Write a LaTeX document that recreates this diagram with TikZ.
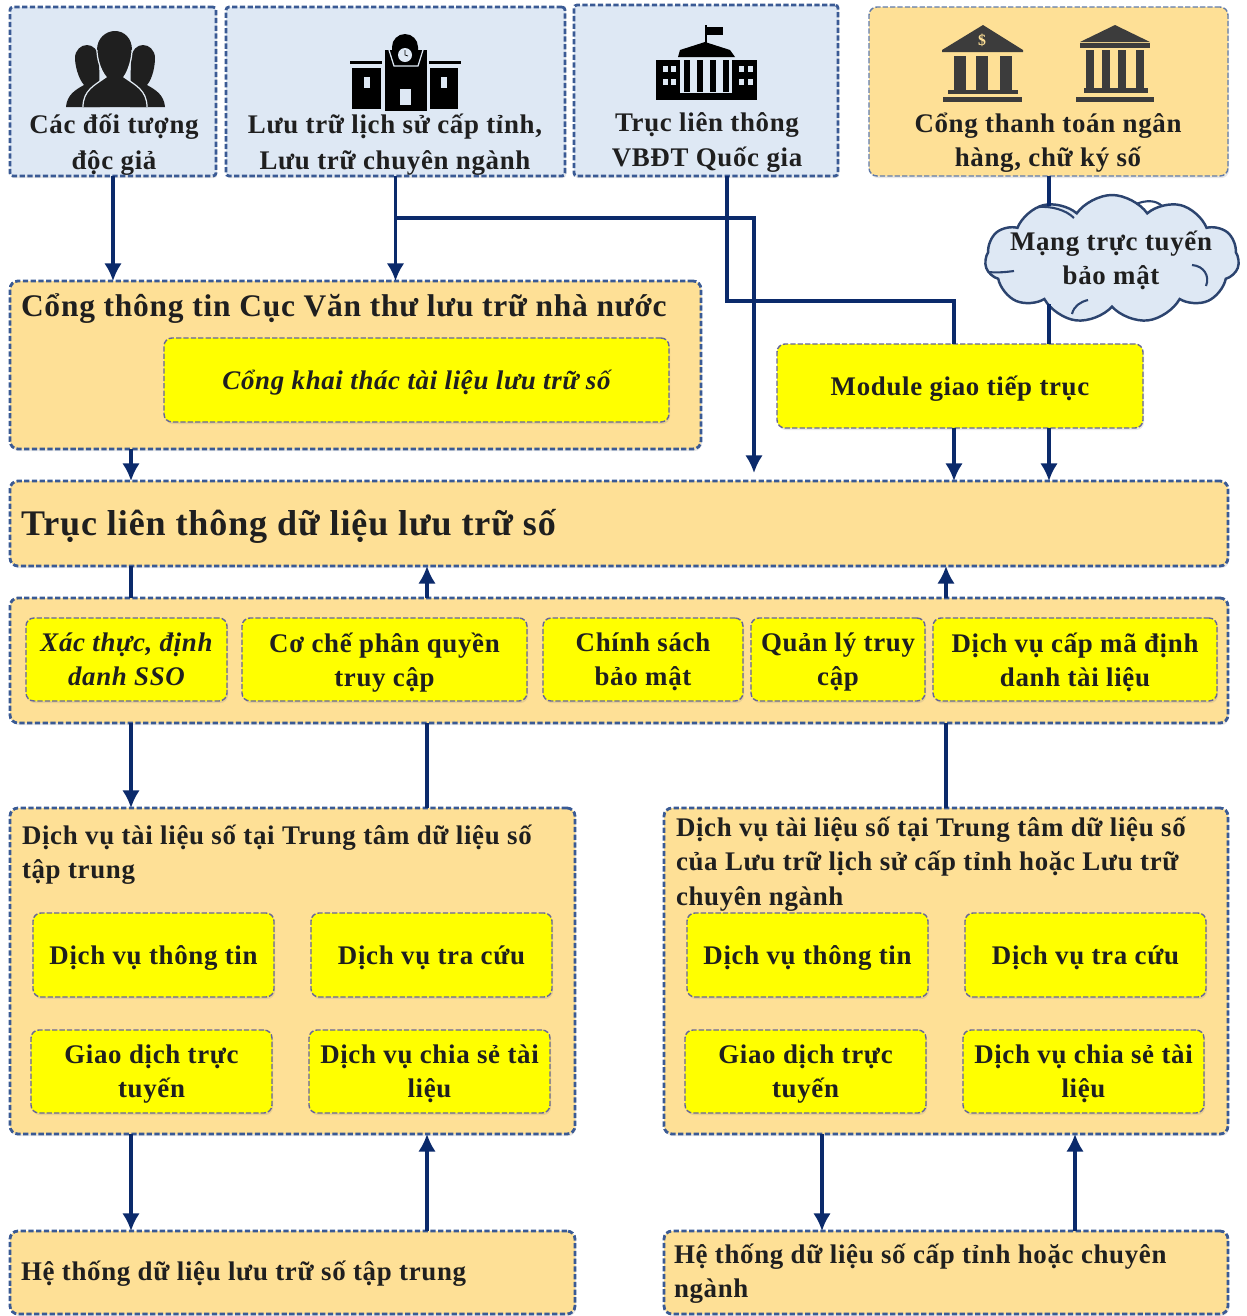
\documentclass[tikz,border=0pt]{standalone}
\usepackage{fontspec}
\setmainfont[LetterSpace=2.5]{Liberation Serif}
\usetikzlibrary{shapes.symbols,shadows,arrows.meta}
\definecolor{navyline}{HTML}{0B2A6B}
\definecolor{dashblue}{HTML}{3A5A94}
\definecolor{paleblue}{HTML}{DEE8F4}
\definecolor{paleorange}{HTML}{FEE096}
\definecolor{bankgray}{HTML}{3C3C3C}
\definecolor{boxyellow}{HTML}{FFFF00}
\def\pxu{0.02cm}
\tikzset{
	boxbase/.style={rectangle,rounded corners=1.6mm,outer sep=0pt,inner sep=2pt,align=center,text=black!88,text depth=0pt,
		font=\bfseries\fontsize{15.3}{19.5}\selectfont,
		drop shadow={shadow xshift=0.6pt,shadow yshift=-1.2pt,opacity=0.18,fill=gray}},
	bluebox/.style={boxbase,draw=dashblue,fill=paleblue,line width=1.6pt,dash pattern=on 3pt off 1.4pt,rounded corners=0.6mm},
	orangebox/.style={boxbase,draw=dashblue,fill=paleorange,line width=1.6pt,dash pattern=on 3pt off 1.4pt},
	thinorange/.style={boxbase,draw=dashblue!80,fill=paleorange,line width=0.8pt,dash pattern=on 3pt off 1.2pt},
	yellowbox/.style={boxbase,draw=gray!80!blue,fill=boxyellow,line width=0.8pt,dash pattern=on 3pt off 1.2pt},
	caption/.style={inner sep=0pt,outer sep=0pt,align=center,text=black!88,text depth=0pt,font=\bfseries\fontsize{15.3}{19.5}\selectfont},
	leftcaption/.style={caption,anchor=west,align=left},
	link/.style={draw=navyline,line width=1.8pt},
	arrowlink/.style={link,->,>={Latex[length=10pt,width=10pt]}},
}
\begin{document}
\begin{tikzpicture}[x=\pxu,y=-\pxu]
\useasboundingbox (0,0) rectangle (1247,1316);

% top row
\node[bluebox,minimum width=206*\pxu,minimum height=169*\pxu] (docgia) at (113,91.5) {};
\node[bluebox,minimum width=339*\pxu,minimum height=169*\pxu] (luutru) at (395.5,91.5) {};
\node[bluebox,minimum width=264*\pxu,minimum height=171*\pxu] (vbdt) at (706,90.5) {};
\node[thinorange,minimum width=359*\pxu,minimum height=169*\pxu] (nganhang) at (1048.5,91.5) {};
\node[caption] (docgiatxt) at (114,142) {Các đối tượng\\[1pt]độc giả};
\node[caption] (luutrutxt) at (395,142) {Lưu trữ lịch sử cấp tỉnh,\\[1pt]Lưu trữ chuyên ngành};
\node[caption] (vbdttxt) at (707,139.5) {Trục liên thông\\VBĐT Quốc gia};
\node[caption] (nganhangtxt) at (1048,139.5) {Cổng thanh toán ngân\\hàng, chữ ký số};

% icon: readers
\fill[black!88] (66,107) .. controls (67,95) and (75,90) .. (84,85) .. controls (78,78) and (75,65) .. (75,58) .. controls (75,50) and (81,45) .. (87,45) .. controls (93,45) and (98,50) .. (99,58) -- (100,107) -- cycle;
\fill[black!88] (165,107) .. controls (164,95) and (156,90) .. (147,85) .. controls (153,78) and (155,65) .. (155,58) .. controls (155,50) and (149,45) .. (143,45) .. controls (137,45) and (132,50) .. (131,58) -- (130,107) -- cycle;
\fill[black!88] (83,107) .. controls (83,90) and (95,85) .. (106,77) .. controls (100,70) and (97,58) .. (97,50) .. controls (97,38) and (106,31) .. (115,31) .. controls (124,31) and (132,38) .. (132,50) .. controls (132,58) and (129,70) .. (124,77) .. controls (135,85) and (147,90) .. (147,107) -- cycle;
\draw[paleblue!80,line width=0.7pt] (83,107) .. controls (83,90) and (95,85) .. (106,77) .. controls (100,70) and (97,58) .. (97,50);
\draw[paleblue!80,line width=0.7pt] (147,107) .. controls (147,90) and (135,85) .. (124,77) .. controls (129,70) and (132,58) .. (132,50);

% icon: archive with clock
\fill[black] (352,68) rectangle (381,109);
\fill[black] (430,68) rectangle (458,109);
\fill[black] (350,61) rectangle (382,64);
\fill[black] (429,61) rectangle (461,64);
\fill[black] (385,50) rectangle (427,111);
\fill[black] (392,47) arc[start angle=180,end angle=360,radius=13] -- (418,52) -- (392,52) -- cycle;
\draw[paleblue,line width=0.7pt] (389,50) -- (394,66) -- (418,66) -- (423,50);
\fill[paleblue] (405,55) circle (7);
\draw[black,line width=0.4pt] (405,50) -- (405,55) -- (408,56);
\fill[paleblue] (400,89) rectangle (411,105);
\fill[paleblue] (364,77) rectangle (370,88);
\fill[paleblue] (441,77) rectangle (447,88);

% icon: national building
\fill[black] (656,60) rectangle (680,100);
\fill[black] (732,60) rectangle (757,100);
\fill[black] (705,25) rectangle (706.5,44);
\fill[black] (706,27) rectangle (723,35);
\fill[black] (678,57) -- (680,50) -- (705,42) -- (730,50) -- (735,57) -- cycle;
\fill[black] (680,93) rectangle (733,100);
\foreach \cx in {684,697,710,723} \fill[black] (\cx,60) rectangle (\cx+6,92);
\foreach \wx in {663,671,739,748} \foreach \wy in {66,79} \fill[paleblue] (\wx,\wy) rectangle (\wx+5,\wy+6);

% icon: two banks
\fill[bankgray] (942,50) -- (983,25) -- (1023,50) -- (1023,52) -- (942,52) -- cycle;
\node[text=paleorange,inner sep=0pt,font=\bfseries\small] (dollar) at (982,40) {\$};
\foreach \cx in {954,976,1000} \fill[bankgray] (\cx,56) rectangle (\cx+12,90);
\fill[bankgray] (948,90) rectangle (1018,94);
\fill[bankgray] (943,97) rectangle (1022,102);
\fill[bankgray] (1080,42) -- (1115,25) -- (1150,42) -- cycle;
\fill[bankgray] (1080,43) rectangle (1150,48);
\foreach \cx in {1086,1102,1118,1136} \fill[bankgray] (\cx,50) rectangle (\cx+8,88);
\fill[bankgray] (1084,88) rectangle (1148,93);
\fill[bankgray] (1076,97) rectangle (1154,102);

% cloud and portal
\node[cloud,cloud puffs=11,cloud puff arc=110,aspect=2,draw=dashblue!75!black,fill=paleblue,line width=1.4pt,minimum width=254*\pxu,minimum height=128*\pxu,inner sep=0pt,outer sep=0pt] (mang) at (1112,259) {};
\draw[dashblue!75!black,line width=1.2pt] (1038,207) .. controls (1052,206) and (1066,210) .. (1074,218);
\draw[dashblue!75!black,line width=1.2pt] (1136,204) .. controls (1146,200) and (1156,200) .. (1162,206);
\draw[dashblue!75!black,line width=1.2pt] (1192,265) .. controls (1204,266) and (1210,276) .. (1206,286);
\draw[dashblue!75!black,line width=1.2pt] (988,272) .. controls (998,273) and (1006,272) .. (1014,271);
\draw[dashblue!75!black,line width=1.2pt] (1072,314) .. controls (1074,306) and (1080,302) .. (1088,300);
\node[caption] (mangtxt) at (1111,258) {Mạng trực tuyến\\bảo mật};

\node[orangebox,minimum width=691*\pxu,minimum height=168*\pxu] (congtt) at (355.5,365) {};
\node[leftcaption,font=\bfseries\fontsize{17.9}{20}\selectfont] (congtttxt) at (21,305) {Cổng thông tin Cục Văn thư lưu trữ nhà nước};
\node[yellowbox,minimum width=505*\pxu,minimum height=84*\pxu,font=\bfseries\itshape\fontsize{15.3}{19.5}\selectfont] (khaithac) at (416.5,380) {Cổng khai thác tài liệu lưu trữ số};
\node[yellowbox,minimum width=366*\pxu,minimum height=84*\pxu] (module) at (960,386) {Module giao tiếp trục};

% axis and security band
\node[orangebox,minimum width=1218*\pxu,minimum height=85*\pxu] (truc) at (619,523.5) {};
\node[leftcaption,font=\bfseries\fontsize{20.5}{24}\selectfont] (tructxt) at (21,522) {Trục liên thông dữ liệu lưu trữ số};
\node[orangebox,minimum width=1218*\pxu,minimum height=125*\pxu] (band) at (619,660.5) {};
\node[yellowbox,minimum width=201*\pxu,minimum height=83*\pxu,font=\bfseries\itshape\fontsize{15.3}{19.5}\selectfont] (sso) at (126.5,659.5) {Xác thực, định\\danh SSO};
\node[yellowbox,minimum width=285*\pxu,minimum height=83*\pxu] (phanquyen) at (384.5,659.5) {Cơ chế phân quyền\\truy cập};
\node[yellowbox,minimum width=200*\pxu,minimum height=83*\pxu] (baomat) at (643,659.5) {Chính sách\\bảo mật};
\node[yellowbox,minimum width=174*\pxu,minimum height=83*\pxu] (quanly) at (838,659.5) {Quản lý truy\\cập};
\node[yellowbox,minimum width=284*\pxu,minimum height=83*\pxu] (mahoa) at (1075,659.5) {Dịch vụ cấp mã định\\danh tài liệu};

% left services
\node[orangebox,minimum width=565*\pxu,minimum height=326*\pxu] (dvtrai) at (292.5,971) {};
\node[leftcaption] (dvtraitxt) at (22,852) {Dịch vụ tài liệu số tại Trung tâm dữ liệu số\\tập trung};
\node[yellowbox,minimum width=241*\pxu,minimum height=84*\pxu] (ttin1) at (153.5,955) {Dịch vụ thông tin};
\node[yellowbox,minimum width=241*\pxu,minimum height=84*\pxu] (tcuu1) at (431.5,955) {Dịch vụ tra cứu};
\node[yellowbox,minimum width=241*\pxu,minimum height=83*\pxu] (gdich1) at (151.5,1071.5) {Giao dịch trực\\tuyến};
\node[yellowbox,minimum width=241*\pxu,minimum height=83*\pxu] (chiase1) at (429.5,1071.5) {Dịch vụ chia sẻ tài\\liệu};

% right services
\node[orangebox,minimum width=564*\pxu,minimum height=326*\pxu] (dvphai) at (946,971) {};
\node[leftcaption] (dvphaitxt) at (676,861) {Dịch vụ tài liệu số tại Trung tâm dữ liệu số\\của Lưu trữ lịch sử cấp tỉnh hoặc Lưu trữ\\chuyên ngành};
\node[yellowbox,minimum width=241*\pxu,minimum height=84*\pxu] (ttin2) at (807.5,955) {Dịch vụ thông tin};
\node[yellowbox,minimum width=241*\pxu,minimum height=84*\pxu] (tcuu2) at (1085.5,955) {Dịch vụ tra cứu};
\node[yellowbox,minimum width=241*\pxu,minimum height=83*\pxu] (gdich2) at (805.5,1071.5) {Giao dịch trực\\tuyến};
\node[yellowbox,minimum width=241*\pxu,minimum height=83*\pxu] (chiase2) at (1083.5,1071.5) {Dịch vụ chia sẻ tài\\liệu};

% data systems
\node[orangebox,minimum width=565*\pxu,minimum height=83*\pxu] (htrai) at (292.5,1272.5) {};
\node[leftcaption] (htraitxt) at (21,1271) {Hệ thống dữ liệu lưu trữ số tập trung};
\node[orangebox,minimum width=564*\pxu,minimum height=83*\pxu] (hphai) at (946,1272.5) {};
\node[leftcaption] (hphaitxt) at (674,1271) {Hệ thống dữ liệu số cấp tỉnh hoặc chuyên\\ngành};

% guide columns for the links
\coordinate (xa) at (131,0);
\coordinate (xb) at (427,0);
\coordinate (xc) at (946,0);
\coordinate (xd) at (822,0);
\coordinate (xe) at (1075,0);
\coordinate (xf) at (954,0);
\coordinate (xg) at (1049,0);
\coordinate (xh) at (754,0);
\coordinate (xi) at (727,0);
\coordinate (ybranch) at (0,218);
\coordinate (ybus) at (0,301);
\coordinate (ystop) at (0,473);
\coordinate (ycloudup) at (0,206);
\coordinate (yclouddown) at (0,304);

\draw[arrowlink] (docgia.south) -- (docgia.south |- congtt.north);
\draw[arrowlink] (luutru.south) -- (luutru.south |- congtt.north);
\draw[arrowlink] (luutru.south |- ybranch) -- (xh |- ybranch) -- (xh |- ystop);
\draw[link] (xi |- vbdt.south) -- (xi |- ybus) -- (xf |- ybus) -- (xf |- module.north);
\draw[link] (xg |- nganhang.south) -- (xg |- ycloudup);
\draw[link] (xg |- yclouddown) -- (xg |- module.north);
\draw[arrowlink] (xf |- module.south) -- (xf |- truc.north);
\draw[arrowlink] (xg |- module.south) -- (xg |- truc.north);
\draw[arrowlink] (xa |- congtt.south) -- (xa |- truc.north);
\draw[link] (xa |- truc.south) -- (xa |- band.north);
\draw[arrowlink] (xb |- band.north) -- (xb |- truc.south);
\draw[arrowlink] (xc |- band.north) -- (xc |- truc.south);
\draw[arrowlink] (xa |- band.south) -- (xa |- dvtrai.north);
\draw[link] (xb |- dvtrai.north) -- (xb |- band.south);
\draw[link] (xc |- dvphai.north) -- (xc |- band.south);
\draw[arrowlink] (xa |- dvtrai.south) -- (xa |- htrai.north);
\draw[arrowlink] (xb |- htrai.north) -- (xb |- dvtrai.south);
\draw[arrowlink] (xd |- dvphai.south) -- (xd |- hphai.north);
\draw[arrowlink] (xe |- hphai.north) -- (xe |- dvphai.south);
\end{tikzpicture}
\end{document}
